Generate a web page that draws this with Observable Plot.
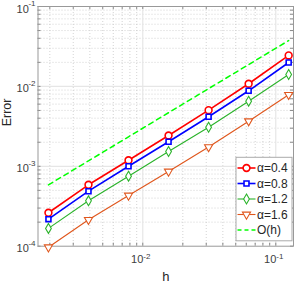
<!DOCTYPE html>
<html><head><meta charset="utf-8">
<script src="https://cdn.jsdelivr.net/npm/d3@7"></script>
<script src="https://cdn.jsdelivr.net/npm/@observablehq/plot@0.6"></script>
<style>body{margin:0;background:#fff} svg{display:block;font-family:"Liberation Sans",Arial,sans-serif}</style>
</head><body><div id="chart"></div>
<script>
// ---- data ----
const h = [0.001953125, 0.00390625, 0.0078125, 0.015625, 0.03125, 0.0625, 0.125];
const err04 = [2.62e-4, 5.87e-4, 1.19e-3, 2.43e-3, 5.04e-3, 1.08e-2, 2.44e-2];
const err08 = [2.18e-4, 4.88e-4, 1.00e-3, 2.03e-3, 4.17e-3, 8.81e-3, 1.99e-2];
const err12 = [1.67e-4, 3.70e-4, 7.52e-4, 1.53e-3, 3.08e-3, 6.53e-3, 1.41e-2];
const err16 = [9.7e-5, 2.14e-4, 4.31e-4, 8.61e-4, 1.74e-3, 3.67e-3, 7.85e-3];
const orderH = [5.86e-4, 1.17e-3, 2.34e-3, 4.69e-3, 9.38e-3, 1.875e-2, 3.75e-2];
const seriesNames = ["α=0.4", "α=0.8", "α=1.2", "α=1.6", "O(h)"];
const yTicks = [1e-4, 1e-3, 1e-2, 1e-1];
const yTickExp = ["-4", "-3", "-2", "-1"];
const xTicks = [1e-2, 1e-1];
const xTickExp = ["-2", "-1"];
const yMinor = [2e-4,3e-4,4e-4,5e-4,6e-4,7e-4,8e-4,9e-4,2e-3,3e-3,4e-3,5e-3,6e-3,7e-3,8e-3,9e-3,2e-2,3e-2,4e-2,5e-2,6e-2,7e-2,8e-2,9e-2];
const xMinor = [2e-3,3e-3,4e-3,5e-3,6e-3,7e-3,8e-3,9e-3,2e-2,3e-2,4e-2,5e-2,6e-2,7e-2,8e-2,9e-2];
const xDomain = [0.00163, 0.1359];
const yDomain = [1e-4, 1e-1];

// ---- layout / style ----
const W = 294, H = 285, mL = 37.5, mR = 1, mT = 6, mB = 39.3;
const pw = W - mL - mR, ph = H - mT - mB;
const styles = [
  {values: err04, color: "#ff0000", symbol: "circle",   rotate: 0,   sw: 1.6, r: 3.4},
  {values: err08, color: "#0000ff", symbol: "square",   rotate: 0,   sw: 1.6, r: 2.8},
  {values: err12, color: "#2ab32a", symbol: "diamond",  rotate: 0,   sw: 1.1, r: 3.0},
  {values: err16, color: "#e0561c", symbol: "triangle", rotate: 180, sw: 1.1, r: 3.0}
];
const tc = "#404040";

const marks = [
  Plot.ruleY(yMinor, {y: d => d, stroke: "#c8c8c8", strokeDasharray: "1,2", strokeWidth: 0.8}),
  Plot.ruleX(xMinor, {x: d => d, stroke: "#c8c8c8", strokeDasharray: "1,2", strokeWidth: 0.8}),
  Plot.ruleY(yTicks.slice(1, 3), {y: d => d, stroke: "#e6e6e6", strokeWidth: 1.2}),
  Plot.ruleX(xTicks, {x: d => d, stroke: "#e6e6e6", strokeWidth: 1.2}),
  // inward ticks
  Plot.ruleY(yTicks.concat(yMinor), {y: d => d, stroke: "#888", insetRight: pw - 3}),
  Plot.ruleY(yTicks.concat(yMinor), {y: d => d, stroke: "#888", insetLeft: pw - 3}),
  Plot.ruleX(xTicks.concat(xMinor), {x: d => d, stroke: "#888", insetTop: ph - 3}),
  Plot.ruleX(xTicks.concat(xMinor), {x: d => d, stroke: "#888", insetBottom: ph - 3}),
  Plot.frame({stroke: "#999", strokeWidth: 1}),
  // O(h)
  Plot.line(h.map((x, i) => ({h: x, e: orderH[i]})), {x: "h", y: "e", stroke: "#00ff00", strokeWidth: 1.5, strokeDasharray: "5,4"})
];
styles.forEach((s, k) => {
  const rows = h.map((x, i) => ({h: x, e: s.values[i]}));
  marks.push(Plot.line(rows, {x: "h", y: "e", stroke: s.color, strokeWidth: s.sw}));
  marks.push(Plot.dot(rows, {x: "h", y: "e", stroke: s.color, fill: "white", symbol: s.symbol, rotate: s.rotate, r: s.r, strokeWidth: s.sw}));
});
// tick labels
marks.push(
  Plot.text(yTicks, {y: d => d, frameAnchor: "left", text: () => "10", textAnchor: "end", dx: -9.2, dy: 2.5, fontSize: 11, fill: tc}),
  Plot.text(yTicks, {y: d => d, frameAnchor: "left", text: (d, i) => yTickExp[i], textAnchor: "end", dx: -2.5, dy: -3, fontSize: 8, fill: tc}),
  Plot.text(xTicks, {x: d => d, frameAnchor: "bottom", text: () => "10", textAnchor: "end", dx: 0.5, dy: 16.6, fontSize: 11, fill: tc}),
  Plot.text(xTicks, {x: d => d, frameAnchor: "bottom", text: (d, i) => xTickExp[i], textAnchor: "start", dx: 0.5, dy: 12.3, fontSize: 8, fill: tc}),
  Plot.text(["Error"], {frameAnchor: "left", text: d => d, rotate: -90, dx: -31.5, fontSize: 12.5, fill: "#262626"}),
  Plot.text(["h"], {frameAnchor: "bottom", text: d => d, dy: 34.3, fontSize: 13, fill: "#262626"})
);

const plot = Plot.plot({
  width: W, height: H,
  marginLeft: mL, marginRight: mR, marginTop: mT, marginBottom: mB,
  x: {type: "log", domain: xDomain, axis: null},
  y: {type: "log", domain: yDomain, axis: null},
  style: {background: "white", fontFamily: "'Liberation Sans', Arial, sans-serif", overflow: "visible"},
  marks
});
document.getElementById("chart").appendChild(plot);

// ---- legend (inside the axes, southeast) ----
const svg = d3.select(plot);
const lg = svg.append("g").attr("text-anchor", "start");
const bx = 236, by = 157.3, bw = 56, bhgt = 83.5, rowH = 15.5, firstY = 168;
lg.append("rect").attr("x", bx).attr("y", by).attr("width", bw).attr("height", bhgt)
  .attr("fill", "white").attr("stroke", "#aaa").attr("stroke-width", 1);
const symMap = {circle: d3.symbolCircle, square: d3.symbolSquare, diamond: d3.symbolDiamond, triangle: d3.symbolTriangle};
seriesNames.forEach((name, i) => {
  const yy = firstY + i * rowH;
  const s = styles[i];
  if (s) {
    lg.append("line").attr("x1", 237.5).attr("x2", 255.5).attr("y1", yy).attr("y2", yy)
      .attr("stroke", s.color).attr("stroke-width", s.sw);
    lg.append("path").attr("d", d3.symbol(symMap[s.symbol], Math.PI * s.r * s.r)())
      .attr("transform", `translate(246.5,${yy}) rotate(${s.rotate})`)
      .attr("fill", "white").attr("stroke", s.color).attr("stroke-width", s.sw);
  } else {
    lg.append("line").attr("x1", 237.5).attr("x2", 255.5).attr("y1", yy).attr("y2", yy)
      .attr("stroke", "#00ff00").attr("stroke-width", 1.5).attr("stroke-dasharray", "4,3");
  }
  lg.append("text").attr("x", 257).attr("y", yy).attr("dy", "0.35em").attr("text-anchor", "start")
    .attr("font-size", 12).attr("fill", "#262626").text(name);
});
</script>
</body></html>
